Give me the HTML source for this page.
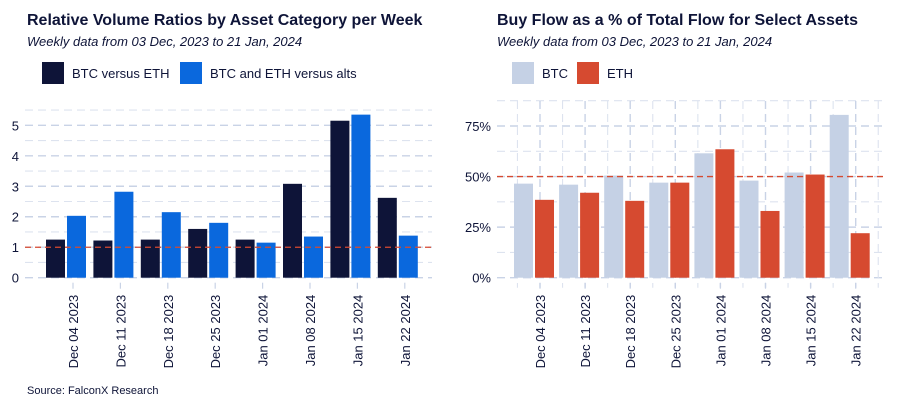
<!DOCTYPE html>
<html><head><meta charset="utf-8"><style>
body{margin:0;background:#fff;font-family:"Liberation Sans",Arial,sans-serif}
svg text{font-family:"Liberation Sans",Arial,sans-serif}
</style></head><body>
<svg id="s" width="900" height="400" xmlns="http://www.w3.org/2000/svg">
<text x="27" y="25" font-size="16" font-weight="bold" fill="#0e1438">Relative Volume Ratios by Asset Category per Week</text>
<text x="27" y="46" font-size="13" font-style="italic" fill="#0e1438">Weekly data from 03 Dec, 2023 to 21 Jan, 2024</text>
<rect x="42" y="62" width="22" height="22" fill="#0e1438"/>
<text x="72" y="78" font-size="13" fill="#0e1438">BTC versus ETH</text>
<rect x="180" y="62" width="22" height="22" fill="#0a68dd"/>
<text x="210" y="78" font-size="13" fill="#0e1438">BTC and ETH versus alts</text>
<text x="497" y="25" font-size="16" font-weight="bold" fill="#0e1438">Buy Flow as a % of Total Flow for Select Assets</text>
<text x="497" y="46" font-size="13" font-style="italic" fill="#0e1438">Weekly data from 03 Dec, 2023 to 21 Jan, 2024</text>
<rect x="512" y="62" width="22" height="22" fill="#c5d1e5"/>
<text x="542" y="78" font-size="13" fill="#0e1438">BTC</text>
<rect x="577" y="62" width="22" height="22" fill="#d64a30"/>
<text x="607" y="78" font-size="13" fill="#0e1438">ETH</text>
<text x="27" y="394" font-size="11" fill="#0e1438">Source: FalconX Research</text>
<g id="L"></g>
<g id="R"></g>
</svg>
<script>
const categories=["Dec 04 2023","Dec 11 2023","Dec 18 2023","Dec 25 2023","Jan 01 2024","Jan 08 2024","Jan 15 2024","Jan 22 2024"];
const btcVsEth=[1.25,1.22,1.25,1.6,1.25,3.08,5.15,2.62];
const btcEthVsAlts=[2.03,2.82,2.15,1.8,1.15,1.35,5.35,1.38];
const leftTicks=[0,1,2,3,4,5];
const btcBuy=[46.5,46,50.5,47,61.5,48,52,80.5];
const ethBuy=[38.5,42,38,47,63.5,33,51,22];
const rightTicks=[0,25,50,75];
const NS="http://www.w3.org/2000/svg";
function mk(p,t,a){const e=document.createElementNS(NS,t);for(const k in a)e.setAttribute(k,a[k]);p.appendChild(e);return e;}
function panel(g,o){
  const y=v=>o.y0-(v-o.min)/(o.max-o.min)*(o.y0-o.y1);
  const x=i=>o.c0+o.step*i;
  for(let v=o.min;v<=o.gmax+1e-9;v+=o.minor){
    const major=Math.abs(v/o.majorStep-Math.round(v/o.majorStep))<1e-9;
    const l=mk(g,'line',{x1:o.px0,x2:o.px1,y1:y(v),y2:y(v),stroke:major?'#c9d3e6':'#dde3ef','stroke-width':major?1.4:1.1,'stroke-dasharray':'8 5'});
    
    
  }
  if(o.vgrid){
    for(let i=-1;i<=categories.length;i++){
      for(const off of [0,-0.5]){
        const xx=x(i)+o.tickOff+o.step*off;
        if(xx>o.px1||xx<o.px0)continue;
        const l=mk(g,'line',{x1:xx,x2:xx,y1:o.y1-25,y2:o.y0+10,stroke:off?'#dde3ef':'#c9d3e6','stroke-width':off?1.1:1.4,'stroke-dasharray':'8 5'});
        
        
      }
    }
  }
  o.ticks.forEach(v=>{
    const t=mk(g,'text',{x:o.px0-6,y:y(v)+5,'font-size':13,fill:'#0e1438','text-anchor':'end'});
    t.textContent=o.fmt(v);
    
    
  });
  categories.forEach((c,i)=>{
    const cx=x(i);
    [[o.a,o.ca,-1],[o.b,o.cb,1]].forEach(([arr,col,s])=>{
      const bx=s<0?cx-o.bw-1:cx+1;
      const r=mk(g,'rect',{x:bx,y:y(arr[i]),width:o.bw,height:y(0)-y(arr[i]),fill:col});
      
      
    });
    const tx=cx+o.tickOff;
    const tk=mk(g,'line',{x1:tx,x2:tx,y1:o.y0+5,y2:o.y0+11,stroke:'#c9d3e6','stroke-width':1.2});
    
    
    const t=mk(g,'text',{x:0,y:0,'font-size':13,fill:'#0e1438','text-anchor':'end',transform:`translate(${tx+5},${o.y0+17}) rotate(-90)`});
    t.textContent=c;
    
    
  });
  const rl=mk(g,'line',{x1:o.px0,x2:o.px1,y1:y(o.ref),y2:y(o.ref),stroke:'#d64a30','stroke-width':1.3,'stroke-dasharray':'6 4'});
  
  
}
panel(document.getElementById('L'),{c0:66,step:47.4,px0:25,px1:432,y0:277.7,y1:125.3,min:0,max:5,gmax:5.5,minor:0.5,majorStep:1,ticks:leftTicks,fmt:v=>v,a:btcVsEth,b:btcEthVsAlts,ca:'#0e1438',cb:'#0a68dd',na:'btc-eth',nb:'alts',bw:19,ref:1,vgrid:false,tickOff:7});
panel(document.getElementById('R'),{c0:534,step:45.1,px0:497,px1:886,y0:277.7,y1:126,min:0,max:75,gmax:87.5,minor:12.5,majorStep:25,ticks:rightTicks,fmt:v=>v+'%',a:btcBuy,b:ethBuy,ca:'#c5d1e5',cb:'#d64a30',na:'btc',nb:'eth',bw:19,ref:50,vgrid:true,tickOff:6});
</script>
</body></html>
